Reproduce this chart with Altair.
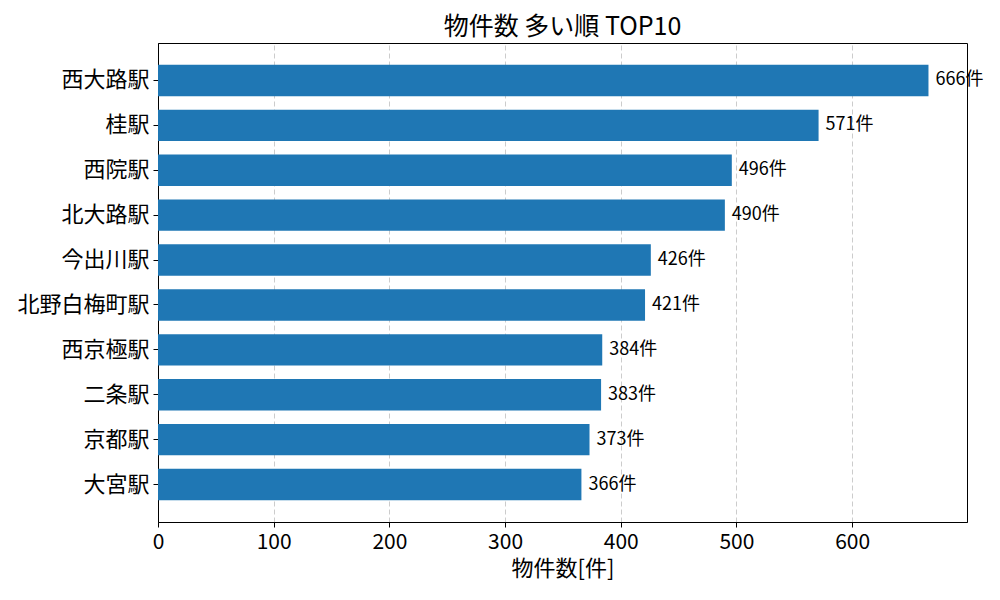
import altair as alt
import pandas as pd

FONT = "Noto Sans CJK JP"

stations = ["西大路駅", "桂駅", "西院駅", "北大路駅", "今出川駅",
            "北野白梅町駅", "西京極駅", "二条駅", "京都駅", "大宮駅"]
counts = [666, 571, 496, 490, 426, 421, 384, 383, 373, 366]

df = pd.DataFrame({"station": stations, "count": counts})
df["label"] = df["count"].astype(str) + "件"

x_scale = alt.Scale(domain=[0, 699.3], nice=False, zero=True)
y_scale = alt.Scale(paddingInner=0.3, paddingOuter=0.485)

base = alt.Chart(df).encode(
    y=alt.Y("station:N", sort=stations, scale=y_scale, title=None,
            axis=alt.Axis(labelFontSize=22, labelFont=FONT, labelColor="black",
                          domainColor="black", tickColor="black", tickSize=5,
                          labelPadding=4, grid=False)),
)

bars = base.mark_bar(color="#1f77b4").encode(
    x=alt.X("count:Q", scale=x_scale, title="物件数[件]",
            axis=alt.Axis(values=[0, 100, 200, 300, 400, 500, 600],
                          labelFontSize=21, labelFont=FONT, labelColor="black",
                          titleFontSize=22, titleFont=FONT, titleFontWeight="normal",
                          titleColor="black", titlePadding=6,
                          domainColor="black", tickColor="black", tickSize=5,
                          labelPadding=4, labelFlush=False,
                          grid=True, gridColor="#cccccc", gridDash=[5, 3])),
)

labels = base.mark_text(align="left", baseline="middle", dx=7, fontSize=18,
                        font=FONT, color="black").encode(
    x=alt.X("count:Q", scale=x_scale),
    text="label:N",
)

chart = (
    (bars + labels)
    .properties(
        width=809, height=479,
        title=alt.TitleParams("物件数 多い順 TOP10", fontSize=25, font=FONT,
                              fontWeight="normal", color="black", offset=3),
        autosize=alt.AutoSizeParams(type="none"),
        padding={"left": 150, "top": 35, "right": 25, "bottom": 70},
    )
    .configure_view(stroke="black", strokeWidth=1)
)

chart.save("out.html", embed_options={"renderer": "svg", "actions": False})
